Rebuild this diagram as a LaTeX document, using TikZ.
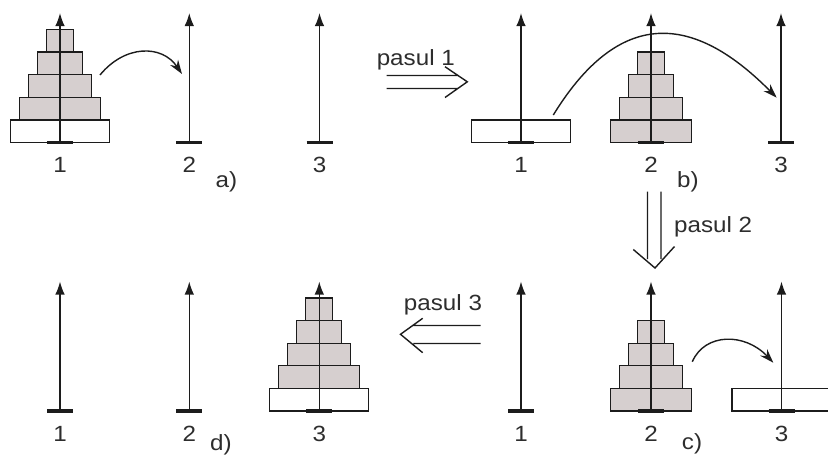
\documentclass[tikz,border=0pt]{standalone}
\usepackage{fontspec}
\setmainfont[FakeStretch=1.1]{Liberation Sans}
\usetikzlibrary{arrows.meta}
\definecolor{discgray}{RGB}{214,207,207}
\definecolor{ink}{RGB}{28,28,28}
\definecolor{txt}{RGB}{45,45,45}
\newcommand\hpeg[2]{%
  \draw[basebar] ({#1-13},{#2}) -- ({#1+13},{#2});
  \draw[pegline] ({#1},{#2}) -- ({#1},{#2-129.5});}
\newcommand\hdisc[5]{%
  \path[#5] ({#1-#4},{#2-#3*22.6}) rectangle ({#1+#4},{#2-(#3+1)*22.6});}
\begin{document}
\begin{tikzpicture}[x=1pt,y=-1pt,
  pegline/.style={draw=ink, line width=1.5pt, -{Latex[length=13pt,width=9.5pt]}},
  basebar/.style={draw=ink, line width=3.2pt},
  discbox/.style={draw=ink, line width=1.3pt, fill=discgray},
  whitebox/.style={draw=ink, line width=1.3pt, fill=white},
  lbl/.style={font=\fontsize{22}{23}\selectfont, text=txt, anchor=base, inner sep=0pt},
  curvearrow/.style={draw=ink, line width=1.4pt, -{Stealth[length=14pt,width=9.5pt]}},
  steparrow/.style={draw=ink, line width=1.4pt, line join=miter}]
\useasboundingbox (0,0) rectangle (828,456);
% ---------- panel a ----------
\hdisc{60}{142.5}{0}{49.5}{whitebox}
\hdisc{60}{142.5}{1}{40.5}{discbox}
\hdisc{60}{142.5}{2}{31.5}{discbox}
\hdisc{60}{142.5}{3}{22.5}{discbox}
\hdisc{60}{142.5}{4}{13.5}{discbox}
\hpeg{60}{142.5}\hpeg{189.3}{142.5}\hpeg{319.5}{142.5}
\node[lbl] (a1) at (60,172) {1};
\node[lbl] (a2) at (189.3,172) {2};
\node[lbl] (a3) at (319.5,172) {3};
\node[lbl] (alab) at (226.5,187.5) {a)};
\coordinate (ca0) at (100,75);
\coordinate (ca1) at (182,74);
\draw[curvearrow] (ca0) .. controls (125,44.5) and (162,44.5) .. (ca1);
% ---------- step 1 ----------
\node[lbl] (p1) at (415.8,65.7) {pasul 1};
\coordinate (s1a) at (386.7,75.5);
\coordinate (s1b) at (458,75.5);
\coordinate (s1c) at (386.7,88.5);
\coordinate (s1d) at (458,88.5);
\coordinate (s1t) at (467.3,81.8);
\coordinate (s1u) at (445,66.7);
\coordinate (s1l) at (445,97.5);
\draw[steparrow] (s1a) -- (s1b) (s1c) -- (s1d) (s1u) -- (s1t) -- (s1l);
% ---------- panel b ----------
\hdisc{521}{142.5}{0}{49.5}{whitebox}
\hdisc{651}{142.5}{0}{40.5}{discbox}
\hdisc{651}{142.5}{1}{31.5}{discbox}
\hdisc{651}{142.5}{2}{22.5}{discbox}
\hdisc{651}{142.5}{3}{13.5}{discbox}
\hpeg{521}{142.5}\hpeg{651}{142.5}\hpeg{781}{142.5}
\node[lbl] (b1) at (521,172) {1};
\node[lbl] (b2) at (651,172) {2};
\node[lbl] (b3) at (781,172) {3};
\node[lbl] (blab) at (688,187.5) {b)};
\coordinate (cb0) at (553.3,115);
\coordinate (cb1) at (776.7,97.7);
\draw[curvearrow] (cb0) .. controls (624,0) and (700,20) .. (cb1);
% ---------- step 2 ----------
\node[lbl, anchor=base west] (p2) at (674,232) {pasul 2};
\coordinate (s2a) at (647.5,191.7);
\coordinate (s2b) at (647.5,259);
\coordinate (s2c) at (661,191.7);
\coordinate (s2d) at (661,259);
\coordinate (s2t) at (655,268);
\coordinate (s2u) at (633.3,249.5);
\coordinate (s2l) at (674.5,246.5);
\draw[steparrow] (s2a) -- (s2b) (s2c) -- (s2d) (s2u) -- (s2t) -- (s2l);
% ---------- panel c ----------
\hdisc{651}{411}{0}{40.5}{discbox}
\hdisc{651}{411}{1}{31.5}{discbox}
\hdisc{651}{411}{2}{22.5}{discbox}
\hdisc{651}{411}{3}{13.5}{discbox}
\hdisc{781.5}{411}{0}{49.5}{whitebox}
\hpeg{521}{411}\hpeg{651}{411}\hpeg{781.5}{411}
\node[lbl] (c1) at (521,441.5) {1};
\node[lbl] (c2) at (651,441.5) {2};
\node[lbl] (c3) at (781.5,441.5) {3};
\node[lbl] (clab) at (692,449) {c)};
\coordinate (cc0) at (692.3,361.7);
\coordinate (cc1) at (773.3,362.7);
\draw[curvearrow] (cc0) .. controls (705,332.6) and (745,332.6) .. (cc1);
% ---------- step 3 ----------
\node[lbl] (p3) at (443,310.7) {pasul 3};
\coordinate (s3a) at (480.7,325.5);
\coordinate (s3b) at (413.3,325.5);
\coordinate (s3c) at (480.7,343.5);
\coordinate (s3d) at (413.3,343.5);
\coordinate (s3t) at (400.5,334.3);
\coordinate (s3u) at (422.7,318.3);
\coordinate (s3l) at (422.7,352.7);
\draw[steparrow] (s3a) -- (s3b) (s3c) -- (s3d) (s3u) -- (s3t) -- (s3l);
% ---------- panel d ----------
\hdisc{319.3}{411}{0}{49.5}{whitebox}
\hdisc{319.3}{411}{1}{40.5}{discbox}
\hdisc{319.3}{411}{2}{31.5}{discbox}
\hdisc{319.3}{411}{3}{22.5}{discbox}
\hdisc{319.3}{411}{4}{13.5}{discbox}
\hpeg{60}{411}\hpeg{189.3}{411}\hpeg{319.3}{411}
\node[lbl] (d1) at (60,441.5) {1};
\node[lbl] (d2) at (189.3,441.5) {2};
\node[lbl] (d3) at (319.3,441.5) {3};
\node[lbl] (dlab) at (221,450) {d)};
\end{tikzpicture}
\end{document}
